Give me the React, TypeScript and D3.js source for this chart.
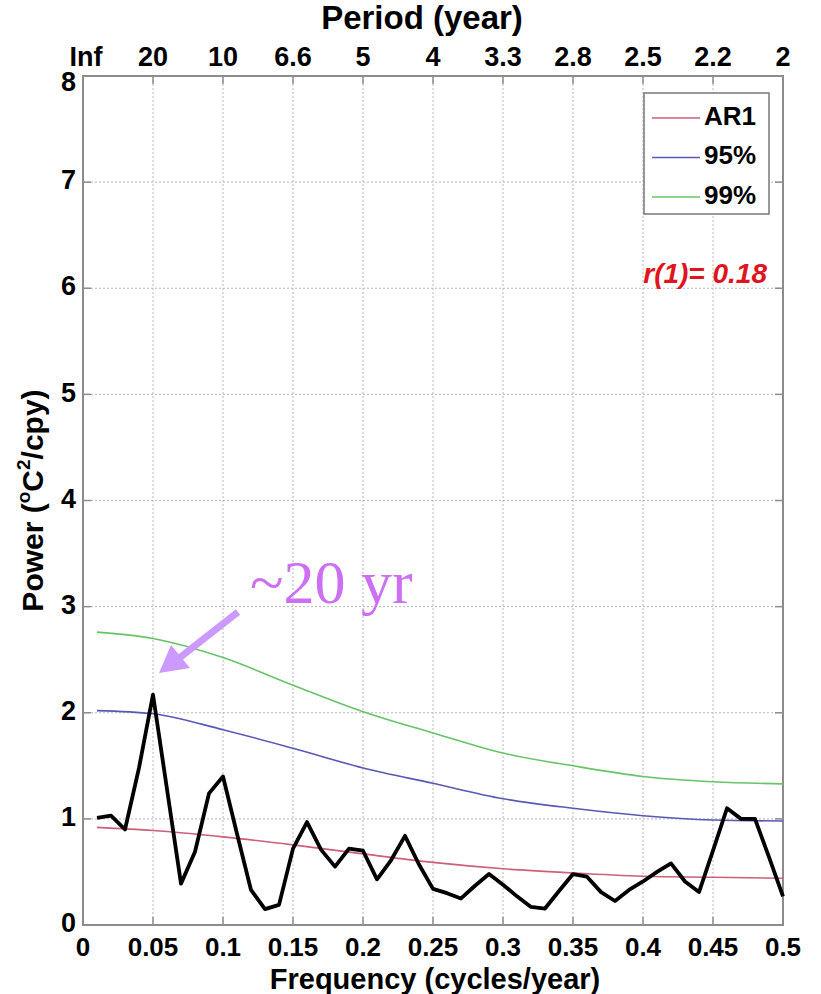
import React from "react";
import * as d3 from "d3";

const freqs = [
  0.01, 0.02, 0.03, 0.04, 0.05, 0.06, 0.07, 0.08, 0.09, 0.1,
  0.11, 0.12, 0.13, 0.14, 0.15, 0.16, 0.17, 0.18, 0.19, 0.2,
  0.21, 0.22, 0.23, 0.24, 0.25, 0.26, 0.27, 0.28, 0.29, 0.3,
  0.31, 0.32, 0.33, 0.34, 0.35, 0.36, 0.37, 0.38, 0.39, 0.4,
  0.41, 0.42, 0.43, 0.44, 0.45, 0.46, 0.47, 0.48, 0.49, 0.5,
];
const power = [
  1.01, 1.03, 0.9, 1.48, 2.17, 1.28, 0.39, 0.69, 1.24, 1.4,
  0.86, 0.33, 0.15, 0.19, 0.72, 0.97, 0.71, 0.55, 0.72, 0.7,
  0.43, 0.61, 0.84, 0.57, 0.34, 0.3, 0.25, 0.37, 0.48, 0.38,
  0.27, 0.17, 0.155, 0.32, 0.48, 0.455, 0.31, 0.226, 0.33, 0.41,
  0.5, 0.58, 0.41, 0.31, 0.7, 1.1, 1.0, 1.0, 0.64, 0.27,
];

const refFreqs = [0.01, 0.05, 0.1, 0.15, 0.2, 0.25, 0.3, 0.35, 0.4, 0.45, 0.5];
const ar1 = [0.92, 0.89, 0.83, 0.755, 0.67, 0.59, 0.53, 0.49, 0.46, 0.45, 0.44];
const conf95 = [2.02, 1.99, 1.84, 1.665, 1.48, 1.335, 1.19, 1.1, 1.03, 0.99, 0.98];
const conf99 = [2.76, 2.7, 2.52, 2.26, 2.01, 1.81, 1.62, 1.5, 1.4, 1.35, 1.33];

const xTicks = [0, 0.05, 0.1, 0.15, 0.2, 0.25, 0.3, 0.35, 0.4, 0.45, 0.5];
const xTickLabels = ["0", "0.05", "0.1", "0.15", "0.2", "0.25", "0.3", "0.35", "0.4", "0.45", "0.5"];
const periodLabels = ["Inf", "20", "10", "6.6", "5", "4", "3.3", "2.8", "2.5", "2.2", "2"];
const yTicks = [0, 1, 2, 3, 4, 5, 6, 7, 8];

const legendNames = ["AR1", "95%", "99%"];
const legendColors = ["#cc6078", "#5858b4", "#66c466"];

const W = 821;
const H = 994;
const M = { left: 83, right: 783, top: 76, bottom: 925 };

export default function App() {
  const x = d3.scaleLinear().domain([0, 0.5]).range([M.left, M.right]);
  const y = d3.scaleLinear().domain([0, 8]).range([M.bottom, M.top]);
  const font = "'Liberation Sans', Arial, Helvetica, sans-serif";

  const dataLine = d3
    .line<number>()
    .x((_, i) => x(freqs[i]))
    .y((d) => y(d));
  const smooth = d3
    .line<number>()
    .x((_, i) => x(refFreqs[i]))
    .y((d) => y(d))
    .curve(d3.curveMonotoneX);

  const series = [ar1, conf95, conf99];
  const gridColor = "#b8b8b8";
  const axisColor = "#8c8c8c";

  return (
    <svg
      width={W}
      height={H}
      style={{ position: "absolute", left: 0, top: 0, background: "#fff" }}
      fontFamily={font}
    >
      <rect x={0} y={0} width={W} height={H} fill="#fff" />
      {xTicks.slice(1, -1).map((t) => (
        <line key={"gx" + t} x1={x(t)} x2={x(t)} y1={M.top} y2={M.bottom} stroke={gridColor} strokeWidth={1} strokeDasharray="2,2" />
      ))}
      {yTicks.slice(1, -1).map((t) => (
        <line key={"gy" + t} x1={M.left} x2={M.right} y1={y(t)} y2={y(t)} stroke={gridColor} strokeWidth={1} strokeDasharray="2,2" />
      ))}
      <rect x={M.left} y={M.top} width={M.right - M.left} height={M.bottom - M.top} fill="none" stroke={axisColor} strokeWidth={2} />
      {xTicks.map((t) => (
        <g key={"tx" + t}>
          <line x1={x(t)} x2={x(t)} y1={M.bottom} y2={M.bottom - 8} stroke={axisColor} strokeWidth={1.5} />
          <line x1={x(t)} x2={x(t)} y1={M.top} y2={M.top + 8} stroke={axisColor} strokeWidth={1.5} />
        </g>
      ))}
      {yTicks.map((t) => (
        <g key={"ty" + t}>
          <line x1={M.left} x2={M.left + 8} y1={y(t)} y2={y(t)} stroke={axisColor} strokeWidth={1.5} />
          <line x1={M.right} x2={M.right - 8} y1={y(t)} y2={y(t)} stroke={axisColor} strokeWidth={1.5} />
        </g>
      ))}
      {series.map((s, i) => (
        <path key={"s" + i} d={smooth(s) || ""} fill="none" stroke={legendColors[i]} strokeWidth={1.6} />
      ))}
      <path d={dataLine(power) || ""} fill="none" stroke="#000" strokeWidth={3.8} strokeLinejoin="round" />

      {xTicks.map((t, i) => (
        <text key={"lx" + t} x={x(t)} y={949} textAnchor="middle" dominantBaseline="middle" fontSize={26} fontWeight="bold">
          {xTickLabels[i]}
        </text>
      ))}
      {xTicks.map((t, i) => (
        <text key={"lp" + t} x={x(t) + (i === 0 ? 3 : 0)} y={59} textAnchor="middle" dominantBaseline="middle" fontSize={27} fontWeight="bold">
          {periodLabels[i]}
        </text>
      ))}
      {yTicks.map((t) => (
        <text key={"ly" + t} x={76} y={y(t) + (t === 8 ? 8 : 0)} textAnchor="end" dominantBaseline="middle" fontSize={27} fontWeight="bold">
          {t}
        </text>
      ))}
      <text x={(M.left + M.right) / 2 + 2} y={981} textAnchor="middle" dominantBaseline="middle" fontSize={29} fontWeight="bold">
        Frequency (cycles/year)
      </text>
      <text x={(M.left + M.right) / 2 - 11} y={20} textAnchor="middle" dominantBaseline="middle" fontSize={33} fontWeight="bold">
        Period (year)
      </text>
      <text
        transform={`translate(35,${(M.top + M.bottom) / 2}) rotate(-90)`}
        textAnchor="middle"
        dominantBaseline="middle"
        fontSize={30}
        fontWeight="bold"
      >
        Power (<tspan baselineShift="super" fontSize={19}>o</tspan>C<tspan baselineShift="super" fontSize={19}>2</tspan>/cpy)
      </text>

      <rect x={644} y={93} width={125} height={121} fill="#fff" stroke="#777" strokeWidth={1.5} />
      {legendNames.map((n, i) => (
        <g key={"lg" + n}>
          <line x1={652} x2={700} y1={118 + i * 39.5} y2={118 + i * 39.5} stroke={legendColors[i]} strokeWidth={1.5} />
          <text x={704} y={118 + i * 39.5} dominantBaseline="middle" fontSize={26} fontWeight="bold">
            {n}
          </text>
        </g>
      ))}

      <text x={767} y={276} textAnchor="end" dominantBaseline="middle" fontSize={28} fontWeight="bold" fontStyle="italic" fill="#e0141e">
        r(1)= 0.18
      </text>

      <text x={250} y={603} fontFamily="'Liberation Serif', 'Times New Roman', serif" fontSize={62} fill="#cc6ff2">
        ~20 yr
      </text>
      <line x1={238} x2={178} y1={612} y2={659} stroke="#cc99ff" strokeWidth={7} />
      <path d="M159,673 L171,645 L190,668 Z" fill="#cc99ff" />
    </svg>
  );
}
